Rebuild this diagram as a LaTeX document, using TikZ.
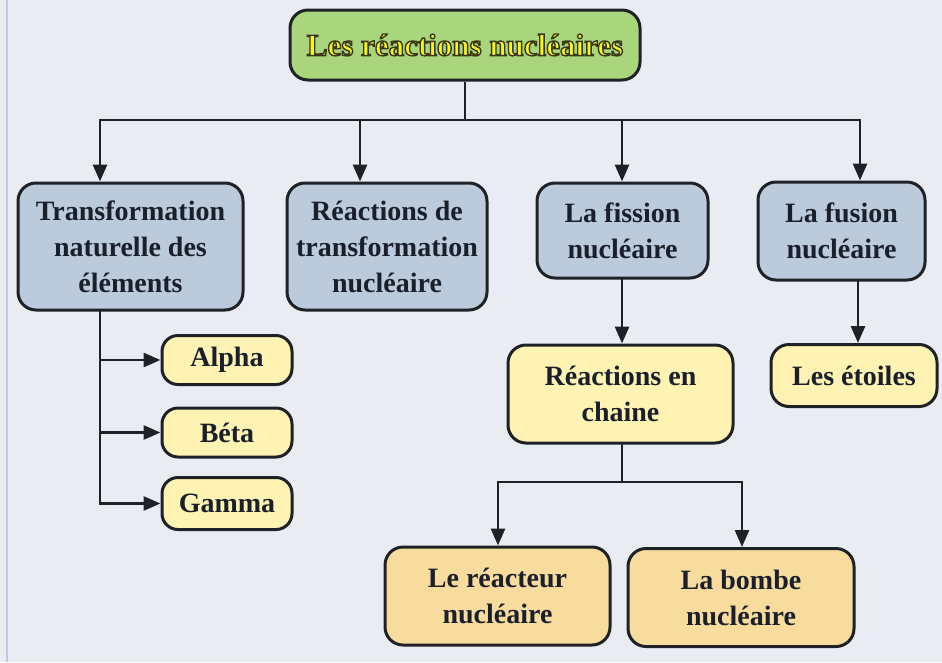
\documentclass[tikz,border=0pt]{standalone}
\usepackage{fontspec}
\setmainfont{Liberation Serif}
\usetikzlibrary{arrows.meta}
\definecolor{bgc}{HTML}{E9ECF1}
\definecolor{greenc}{HTML}{A9D67C}
\definecolor{bluec}{HTML}{BBCBDB}
\definecolor{yellc}{HTML}{FFF3B3}
\definecolor{orangec}{HTML}{F8DC9E}
\definecolor{edgec}{HTML}{1E2226}
\definecolor{textc}{HTML}{1A1F2C}
\definecolor{titletext}{HTML}{FAF522}
\definecolor{sidec}{HTML}{C6C6DE}
\newcommand{\outlinedtext}[1]{\special{pdf:literal direct 2 Tr 1.4 w 0.22 0.22 0.1 RG}#1\special{pdf:literal direct 0 Tr 1 w 0 0 0 RG}}
\begin{document}
\begin{tikzpicture}[x=1pt,y=-1pt,
  box/.style={draw=edgec, line width=3pt, rounded corners=18pt, align=center,
    inner sep=0pt, font=\fontsize{28}{36}\selectfont\bfseries, text=textc},
  bluebox/.style={box, fill=bluec},
  yellbox/.style={box, fill=yellc},
  orbox/.style={box, fill=orangec},
  conn/.style={draw=edgec, line width=2.8pt},
  arr/.style={conn, -{Triangle[length=17pt,width=14pt]}}]
\fill[bgc] (0,0) rectangle (942,662);
\useasboundingbox (0,0) rectangle (942,662);
\draw[sidec, line width=2.5pt] (7,0) -- (7,662);

\node[box, fill=greenc, minimum width=350pt, minimum height=70pt, text=titletext] (title) at (465,45)
  {\fontsize{31}{34}\selectfont\outlinedtext{Les réactions nucléaires}};

\node[bluebox, minimum width=225pt, minimum height=127pt] (b1) at (130.5,246.5)
  {Transformation\\naturelle des\\éléments};
\node[bluebox, minimum width=200pt, minimum height=127pt] (b2) at (387,246.5)
  {Réactions de\\transformation\\nucléaire};
\node[bluebox, minimum width=171pt, minimum height=95pt] (b3) at (622.5,230.5)
  {La fission\\nucléaire};
\node[bluebox, minimum width=167pt, minimum height=98pt] (b4) at (841.5,231)
  {La fusion\\nucléaire};

\node[yellbox, minimum width=130pt, minimum height=49pt, rounded corners=16pt] (alpha) at (227,360) {Alpha};
\node[yellbox, minimum width=130pt, minimum height=49pt, rounded corners=16pt] (beta) at (227,432.5) {Béta};
\node[yellbox, minimum width=130pt, minimum height=52pt, rounded corners=16pt] (gamma) at (227,503.5) {Gamma};

\node[yellbox, minimum width=225pt, minimum height=98pt] (chaine) at (620.5,394)
  {Réactions en\\chaine};
\node[yellbox, minimum width=166pt, minimum height=62pt] (etoiles) at (854,375.5)
  {Les étoiles};

\node[orbox, minimum width=225pt, minimum height=98pt] (reac) at (497.5,596)
  {Le réacteur\\nucléaire};
\node[orbox, minimum width=226pt, minimum height=98pt] (bomb) at (741,597.5)
  {La bombe\\nucléaire};

% top bus
\coordinate (tb) at (465,120);
\coordinate (bl) at (100,120);
\coordinate (br) at (860,120);
\coordinate (x2) at (360,120);
\coordinate (x3) at (622,120);
\draw[conn] (title.south) -- (tb);
\draw[conn, line cap=rect] (bl) -- (br);
\draw[arr] (bl) -- (bl |- b1.north);
\draw[arr] (x2) -- (x2 |- b2.north);
\draw[arr] (x3) -- (x3 |- b3.north);
\draw[arr] (br) -- (br |- b4.north);

% left branch
\coordinate (s1) at (100,310);
\coordinate (sa) at (100,360);
\coordinate (sb) at (100,432.5);
\coordinate (sc) at (100,503.5);
\draw[conn, line cap=rect] (s1) -- (sc);
\draw[arr] (sa) -- (alpha.west);
\draw[arr] (sb) -- (beta.west);
\draw[arr] (sc) -- (gamma.west);

% fission
\coordinate (f1) at (622,278);
\draw[arr] (f1) -- (f1 |- chaine.north);
\coordinate (fu) at (858,280);
\draw[arr] (fu) -- (fu |- etoiles.north);

% chain bus
\coordinate (c0) at (622,443);
\coordinate (c1) at (622,482);
\coordinate (cl) at (498,482);
\coordinate (cr) at (742,482);
\draw[conn] (c0) -- (c1);
\draw[conn, line cap=rect] (cl) -- (cr);
\draw[arr] (cl) -- (cl |- reac.north);
\draw[arr] (cr) -- (cr |- bomb.north);
\end{tikzpicture}
\end{document}
